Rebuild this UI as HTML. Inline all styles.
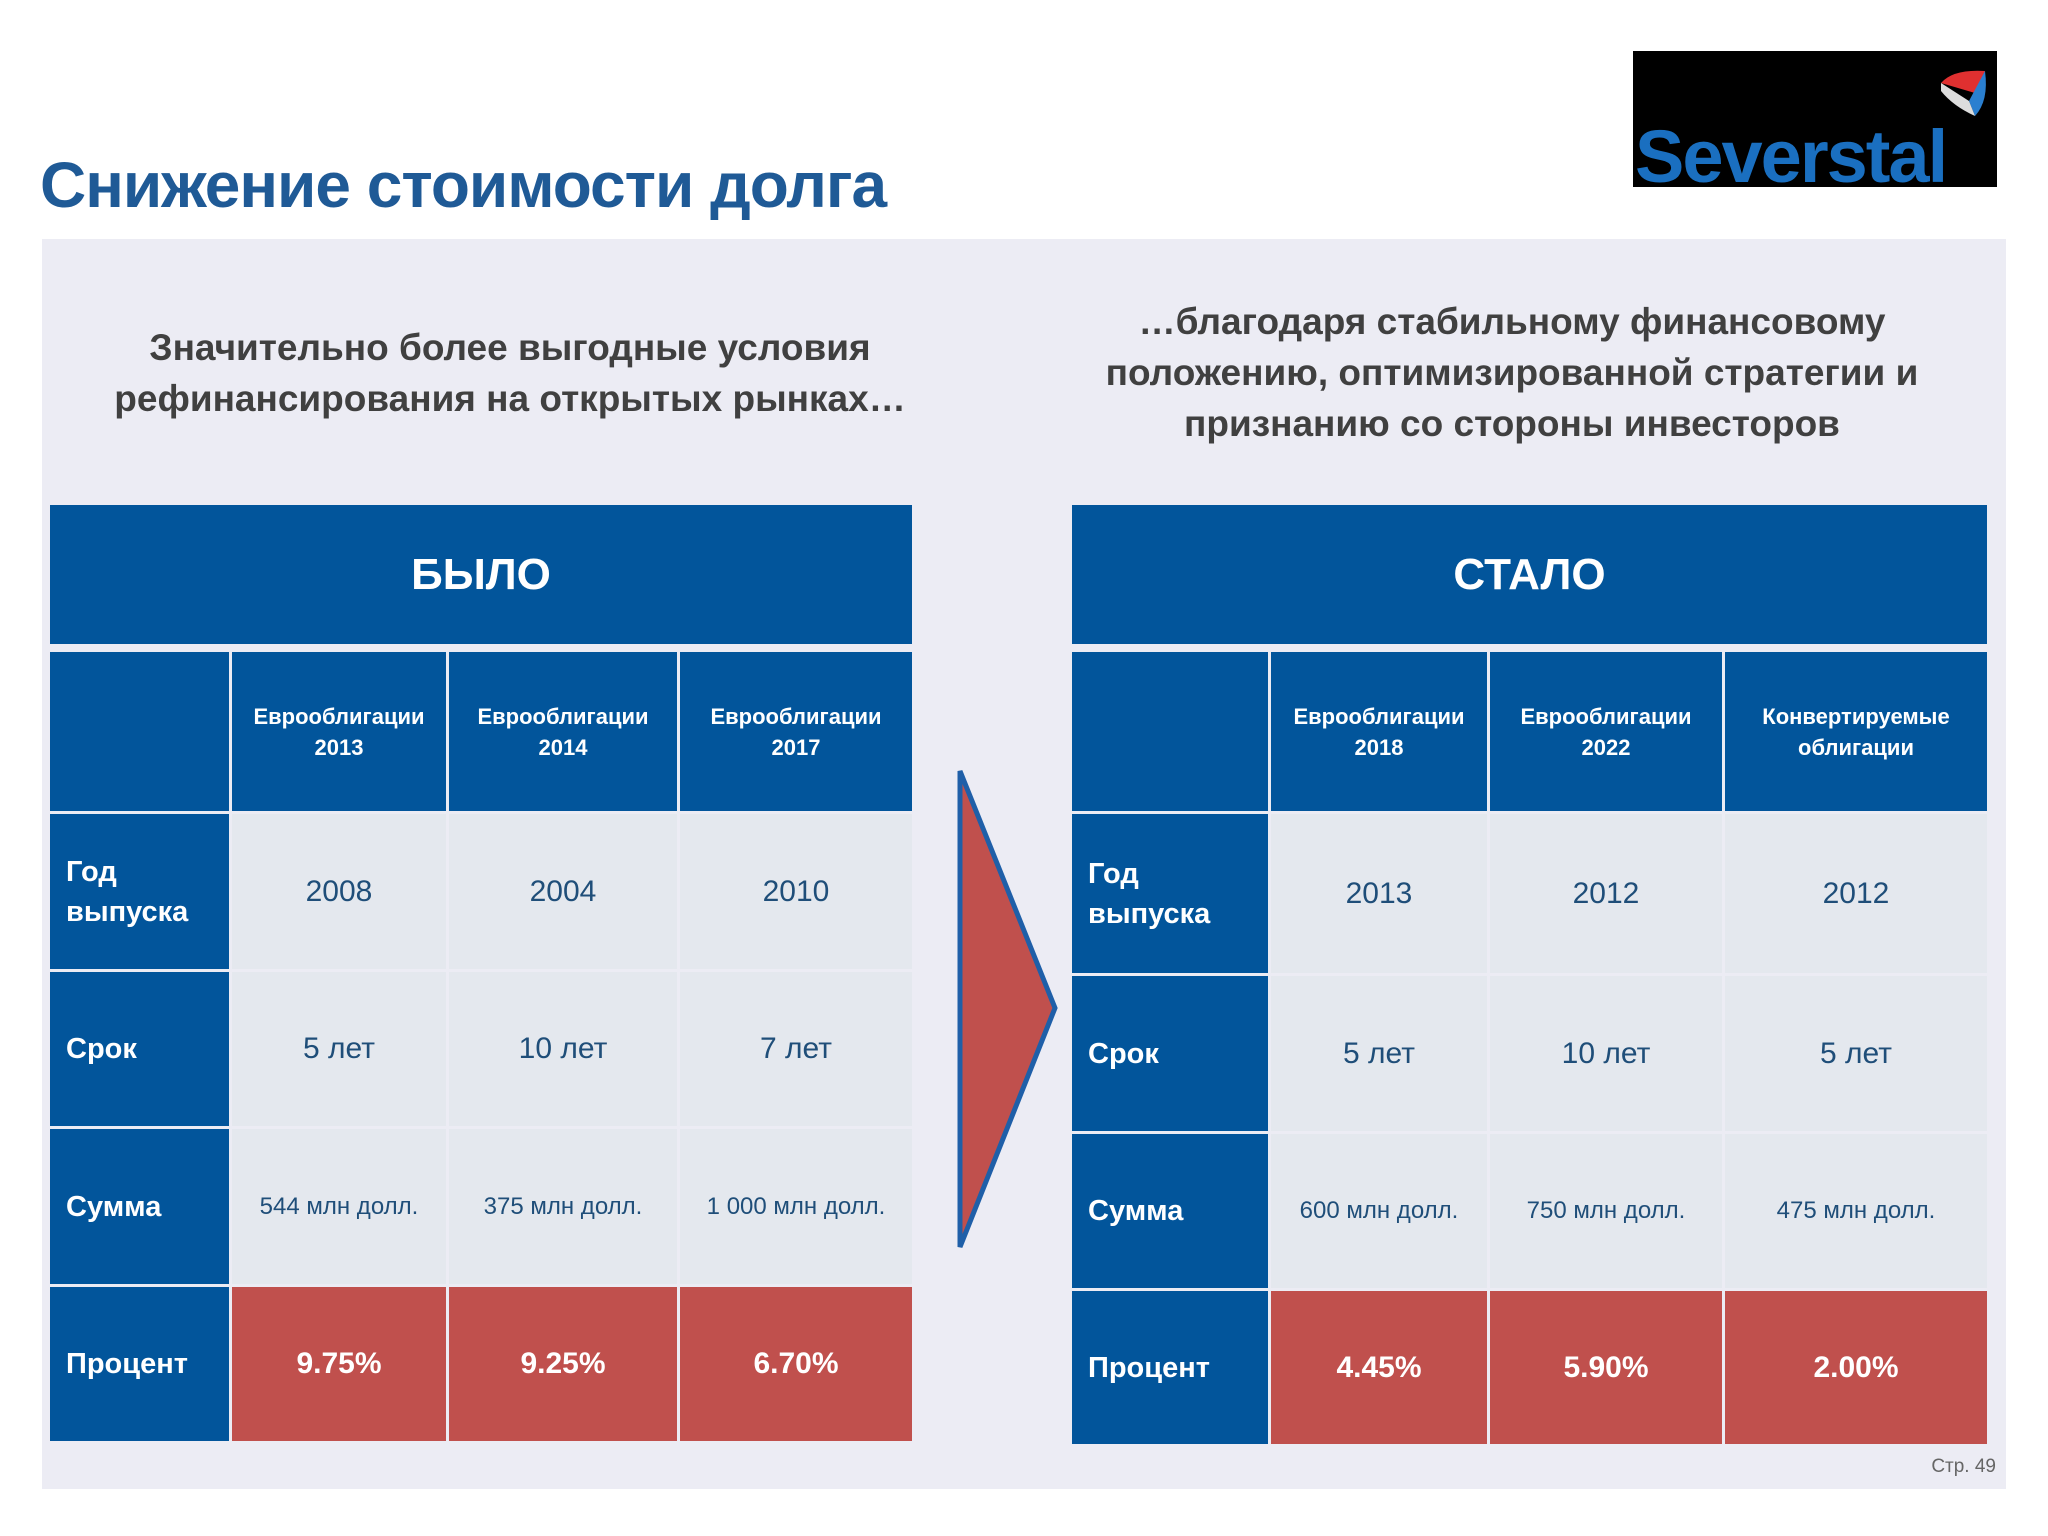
<!DOCTYPE html>
<html><head><meta charset="utf-8"><style>
body{margin:0;width:2048px;height:1536px;background:#fff;position:relative;overflow:hidden;font-family:"Liberation Sans",sans-serif}
.a{position:absolute;box-sizing:border-box;display:flex;align-items:center;justify-content:center;text-align:center}
.h{background:#02559b;color:#fff;font-weight:bold}
.c{background:#e4e8ee;color:#1f4e79}
.r{background:#c0504d;color:#fff;font-weight:bold;font-size:30px}
.l{justify-content:flex-start;padding-left:16px;text-align:left;font-size:29px;line-height:40px}
.sub{line-height:31px}
</style></head><body>
<div class="a" style="left:40px;top:145px;height:80px;justify-content:flex-start;font-size:64px;font-weight:bold;color:#1f5a96;letter-spacing:-1px">Снижение стоимости долга</div>
<div class="a" style="left:1633px;top:51px;width:364px;height:136px;background:#000;justify-content:flex-start;align-items:flex-end;overflow:hidden">
<span style="color:#1a6fc0;font-weight:bold;font-size:74px;margin-left:2px;margin-bottom:-12px;letter-spacing:-2px">Severstal</span>
<svg style="position:absolute;left:300px;top:10px" width="60" height="70"><path d="M8 22 Q20 8 52 10 L42 32 Z" fill="#e03030"/><path d="M52 10 Q56 40 42 55 L36 40 Z" fill="#2a7fd0"/><path d="M8 22 L36 40 L42 55 Q20 45 8 30 Z" fill="#ddd"/></svg></div>
<div style="position:absolute;left:42px;top:239px;width:1964px;height:1250px;background:#ececf4"></div>
<div class="a" style="left:50px;top:320px;width:920px;height:105px;font-size:37px;font-weight:bold;color:#404040;line-height:51px">Значительно более выгодные условия<br>рефинансирования на открытых рынках…</div>
<div class="a" style="left:1052px;top:295px;width:920px;height:155px;font-size:37px;font-weight:bold;color:#404040;line-height:51px">…благодаря стабильному финансовому положению, оптимизированной стратегии и признанию со стороны инвесторов</div>
<svg style="position:absolute;left:950px;top:760px" width="120" height="500"><polygon points="10,11 105,248 10,487" fill="#c0504d" stroke="#1f5fa8" stroke-width="5"/></svg>
<div class="a" style="left:1900px;top:1454px;width:96px;height:26px;justify-content:flex-end;font-size:19px;color:#666">Стр. 49</div>
<script>
const leftTitle='БЫЛО', rightTitle='СТАЛО';
const leftCols=['Еврооблигации<br>2013','Еврооблигации<br>2014','Еврооблигации<br>2017'];
const rightCols=['Еврооблигации<br>2018','Еврооблигации<br>2022','Конвертируемые<br>облигации'];
const rowLabels=['Год<br>выпуска','Срок','Сумма','Процент'];
const leftYears=['2008','2004','2010'], rightYears=['2013','2012','2012'];
const leftTerms=['5 лет','10 лет','7 лет'], rightTerms=['5 лет','10 лет','5 лет'];
const leftSums=['544 млн долл.','375 млн долл.','1 000 млн долл.'], rightSums=['600 млн долл.','750 млн долл.','475 млн долл.'];
const leftRates=['9.75%','9.25%','6.70%'], rightRates=['4.45%','5.90%','2.00%'];
function cell(x,y,w,h,cls,html,name,fs){
 const d=document.createElement('div');d.className='a '+cls;
 d.style.cssText=`left:${x}px;top:${y}px;width:${w}px;height:${h}px;${fs?'font-size:'+fs+'px;':''}`;
 d.innerHTML=html;
 
 
 document.body.appendChild(d);
}
function table(prefix,title,xs,ys,cols,years,terms,sums,rates){
 const W=xs[xs.length-1]-xs[0];
 cell(xs[0],505,W,139,'h',title,prefix+'-title',44);
 const rows=[null,years,terms,sums,rates];
 for(let r=0;r<5;r++){
  const y=ys[r],h=ys[r+1]-ys[r]-3;
  cell(xs[0],y,xs[1]-xs[0]-3,h,'h'+(r?' l':''),r?rowLabels[r-1]:'',prefix+'-row-label-'+r);
  for(let c=0;c<3;c++){
   const x=xs[c+1],w=xs[c+2]-x-(c<2?3:0);
   let cls,txt,fs;
   if(r===0){cls='h sub';txt=cols[c];fs=22;}
   else if(r===4){cls='r';txt=rates[c];}
   else {cls='c';txt=rows[r][c];fs=r===3?24:30;}
   cell(x,y,w,h,cls,txt,prefix+'-cell-r'+r+'-c'+c,fs);
  }
 }
}
table('was-table',leftTitle,[50,232,449,680,912],[652,814,972,1129,1287,1444],leftCols,leftYears,leftTerms,leftSums,leftRates);
table('now-table',rightTitle,[1072,1271,1490,1725,1987],[652,814,976,1134,1291,1447],rightCols,rightYears,rightTerms,rightSums,rightRates);
</script>
</body></html>
